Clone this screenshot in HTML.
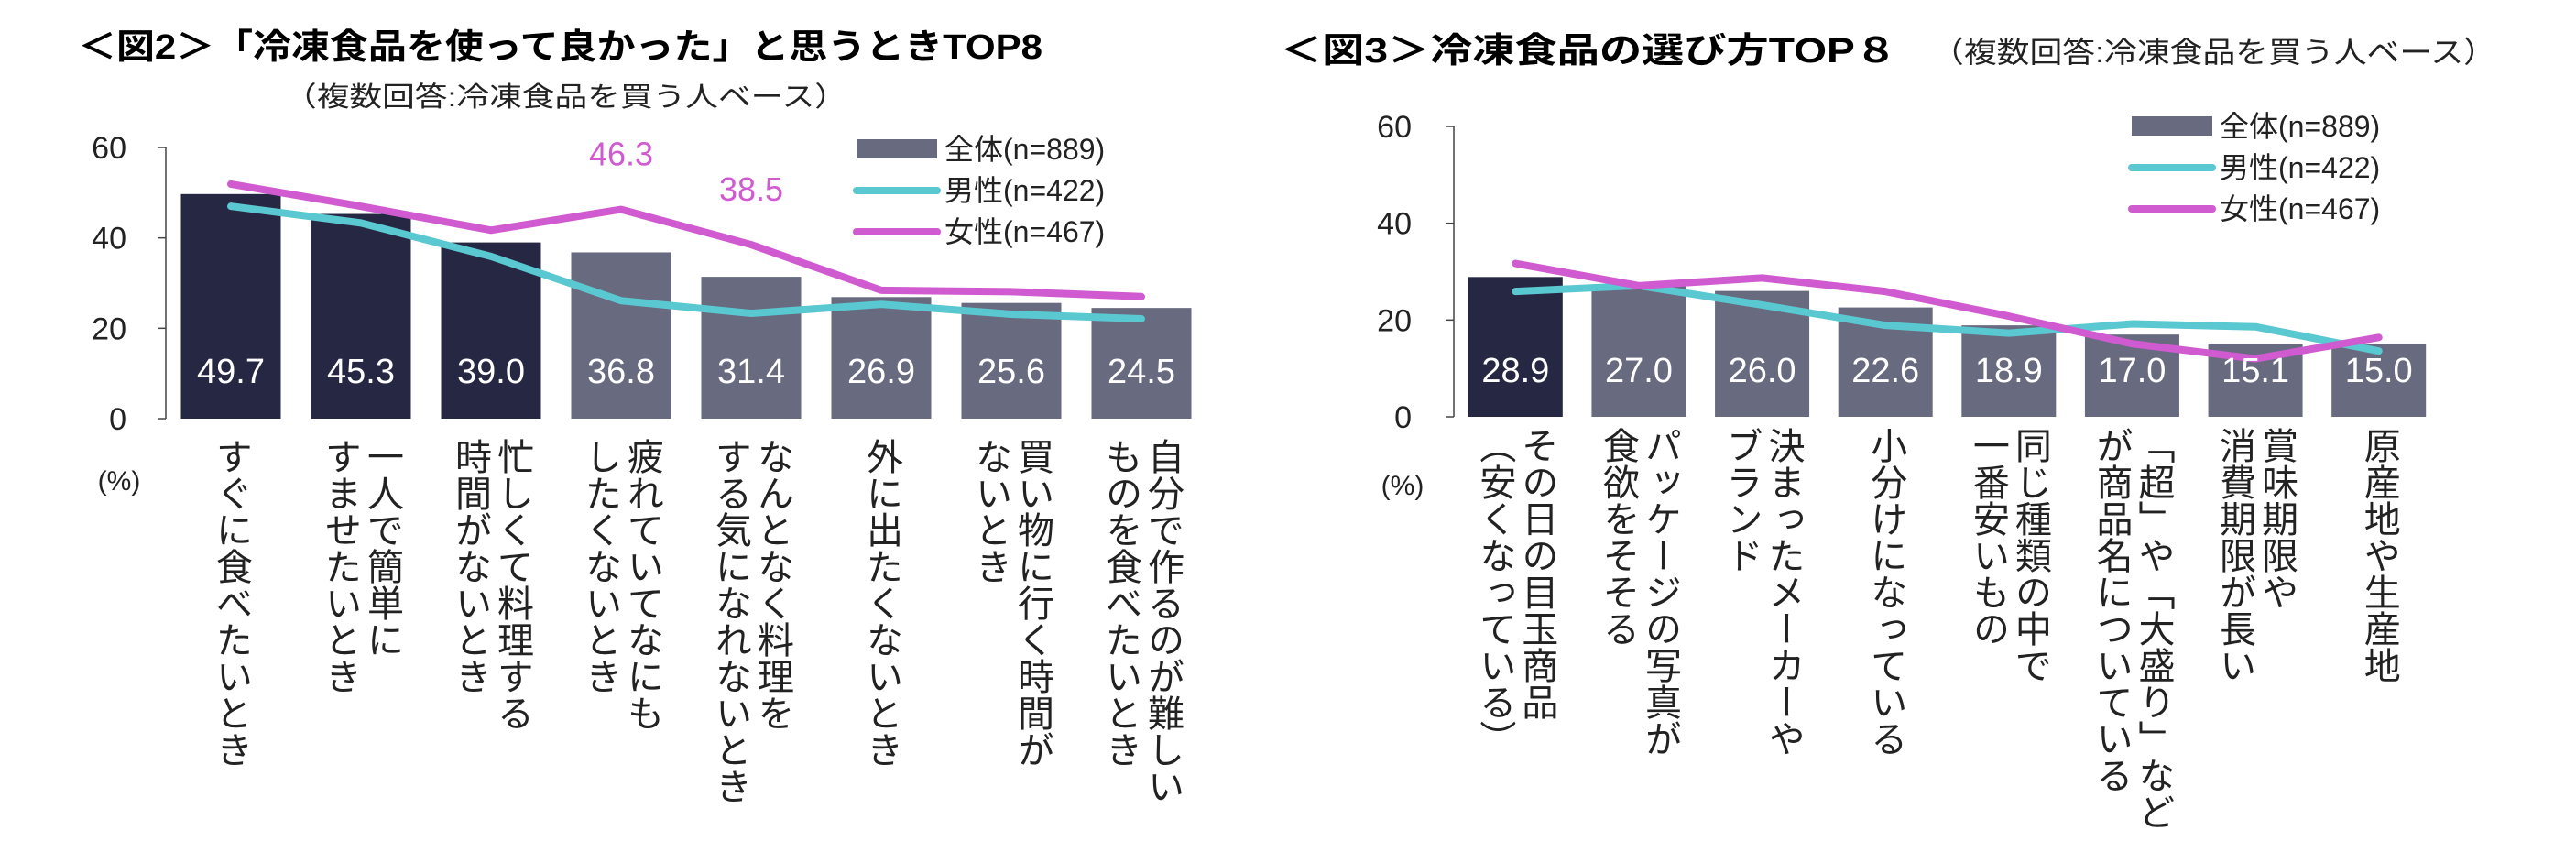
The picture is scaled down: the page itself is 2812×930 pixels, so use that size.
<!DOCTYPE html>
<html><head><meta charset="utf-8">
<style>
body{margin:0;background:#fff;}
#wrap{position:relative;width:2812px;height:930px;overflow:hidden;font-family:"Liberation Sans","Noto Sans CJK JP",sans-serif;}
svg{position:absolute;left:0;top:0;}
.vl{position:absolute;writing-mode:vertical-rl;font-size:40px;line-height:46px;color:#222;white-space:nowrap;transform:translateX(-50%);font-family:"Liberation Sans","Noto Sans CJK JP",sans-serif;}
</style></head>
<body>
<div id="wrap">
<svg id="svg" width="2812" height="930" xmlns="http://www.w3.org/2000/svg">
<text x="85" y="64" font-size="38" font-weight="bold" fill="#000" textLength="1053" lengthAdjust="spacingAndGlyphs">＜図2＞「冷凍食品を使って良かった」と思うときTOP8</text>
<text x="310" y="116" font-size="30" fill="#222" textLength="615" lengthAdjust="spacingAndGlyphs">（複数回答:冷凍食品を買う人ベース）</text>
<text x="1397" y="68" font-size="38" font-weight="bold" fill="#000" textLength="674" lengthAdjust="spacingAndGlyphs">＜図3＞冷凍食品の選び方TOP８</text>
<text x="2108" y="68" font-size="32" fill="#222" textLength="617" lengthAdjust="spacingAndGlyphs">（複数回答:冷凍食品を買う人ベース）</text>
</svg>
</div>
<script>
// Chart 1 data
const c1Categories = [
  ["すぐに食べたいとき"],
  ["一人で簡単に","すませたいとき"],
  ["忙しくて料理する","時間がないとき"],
  ["疲れていてなにも","したくないとき"],
  ["なんとなく料理を","する気になれないとき"],
  ["外に出たくないとき"],
  ["買い物に行く時間が","ないとき"],
  ["自分で作るのが難しい","ものを食べたいとき"]
];
const c1Total = [49.7,45.3,39.0,36.8,31.4,26.9,25.6,24.5];
const c1Male = [47.0,43.3,35.9,26.1,23.3,25.3,23.1,22.1];
const c1Female = [51.9,47.0,41.7,46.3,38.5,28.4,28.1,27.0];
const c1Highlight = [true,true,true,false,false,false,false,false];
const c1FemaleLabels = [null,null,null,"46.3","38.5",null,null,null];
const c1Ticks = [0,20,40,60];

// Chart 2 data
const c2Categories = [
  ["その日の目玉商品","（安くなっている）"],
  ["パッケージの写真が","食欲をそそる"],
  ["決まったメーカーや","ブランド"],
  ["小分けになっている"],
  ["同じ種類の中で","一番安いもの"],
  ["「超」や「大盛り」など","が商品名についている"],
  ["賞味期限や","消費期限が長い"],
  ["原産地や生産地"]
];
const c2Total = [28.9,27.0,26.0,22.6,18.9,17.0,15.1,15.0];
const c2Male = [25.9,27.1,23.1,18.9,17.3,19.2,18.6,13.6];
const c2Female = [31.7,27.1,28.7,25.9,20.8,15.1,12.0,16.4];
const c2Highlight = [true,false,false,false,false,false,false,false];
const c2Ticks = [0,20,40,60];
const legendLabels = ["全体(n=889)","男性(n=422)","女性(n=467)"];

const NS="http://www.w3.org/2000/svg";
const svg=document.getElementById('svg');
const wrap=document.getElementById('wrap');
const DARK="#262843", GRAY="#686a80", CYAN="#5ac8d0", MAG="#d05ad0";
function mk(tag,attrs,parent){const e=document.createElementNS(NS,tag);for(const k in attrs)e.setAttribute(k,attrs[k]);(parent||svg).appendChild(e);return e;}

function drawChart(cfg){
  const {id,x0,x1,y0,y60,cats,tot,male,fem,hl,ticks,femLabels,tickRight,barW,valY,pctX,pctY,legX,legY,labelTop}=cfg;
  const n=cats.length, cw=(x1-x0)/n;
  const xs=i=>x0+cw*(i+0.5);
  const ys=v=>y0-(y0-y60)*v/60;
  // axis
  const ax=mk('line',{x1:x0,y1:y60,x2:x0,y2:y0,stroke:"#444","stroke-width":1.5});
  
  ticks.forEach(t=>{
    const tl=mk('line',{x1:x0-9,y1:ys(t),x2:x0,y2:ys(t),stroke:"#444","stroke-width":1.5});
    
    const tx=mk('text',{x:tickRight,y:ys(t)+12,"font-size":34,fill:"#222","text-anchor":"end"});
    tx.textContent=t;
    
  });
  const pct=mk('text',{x:pctX,y:pctY,"font-size":30,fill:"#222","text-anchor":"middle"});
  pct.textContent="(%)";
  
  // bars
  tot.forEach((v,i)=>{
    const r=mk('rect',{x:xs(i)-barW/2,y:ys(v),width:barW,height:y0-ys(v),fill:hl[i]?DARK:GRAY});
    
  });
  // lines
  function line(vals,color,name){
    const p=mk('polyline',{points:vals.map((v,i)=>xs(i)+","+ys(v)).join(" "),fill:"none",stroke:color,"stroke-width":8,"stroke-linejoin":"round","stroke-linecap":"round"});
    
  }
  line(male,CYAN,id+'-male-line');
  line(fem,MAG,id+'-female-line');
  // value labels
  tot.forEach((v,i)=>{
    const t=mk('text',{x:xs(i),y:valY,"font-size":38,fill:"#fff","text-anchor":"middle"});
    t.textContent=v.toFixed(1);
    
  });
  if(femLabels) femLabels.forEach((s,i)=>{
    if(!s)return;
    const t=mk('text',{x:xs(i),y:ys(fem[i])-48,"font-size":36,fill:MAG,"text-anchor":"middle"});
    t.textContent=s;
    
  });
  // legend
  const lr=mk('rect',{x:legX,y:legY-11,width:88,height:21,fill:GRAY});
  
  const l1=mk('line',{x1:legX,y1:legY+45,x2:legX+88,y2:legY+45,stroke:CYAN,"stroke-width":8,"stroke-linecap":"round"});
  
  const l2=mk('line',{x1:legX,y1:legY+90,x2:legX+88,y2:legY+90,stroke:MAG,"stroke-width":8,"stroke-linecap":"round"});
  
  legendLabels.forEach((s,k)=>{
    const t=mk('text',{x:legX+96,y:legY+11+45*k,"font-size":32,fill:"#222"});
    t.textContent=s;
    
  });
  // category labels
  cats.forEach((lines,i)=>{
    const d=document.createElement('div');
    d.className='vl';
    d.style.left=xs(i)+'px';
    d.style.top=labelTop+'px';
    d.innerHTML=lines.join('<br>');
    
    
    wrap.appendChild(d);
  });
}

drawChart({id:'chart1',x0:181,x1:1317,y0:457,y60:161,cats:c1Categories,tot:c1Total,male:c1Male,fem:c1Female,hl:c1Highlight,ticks:c1Ticks,femLabels:c1FemaleLabels,tickRight:138,barW:109,valY:418,pctX:130,pctY:535,legX:935,legY:163,labelTop:478});
drawChart({id:'chart2',x0:1587,x1:2664,y0:455,y60:138,cats:c2Categories,tot:c2Total,male:c2Male,fem:c2Female,hl:c2Highlight,ticks:c2Ticks,femLabels:null,tickRight:1541,barW:103,valY:417,pctX:1531,pctY:540,legX:2327,legY:138,labelTop:466});
</script>
</body></html>
